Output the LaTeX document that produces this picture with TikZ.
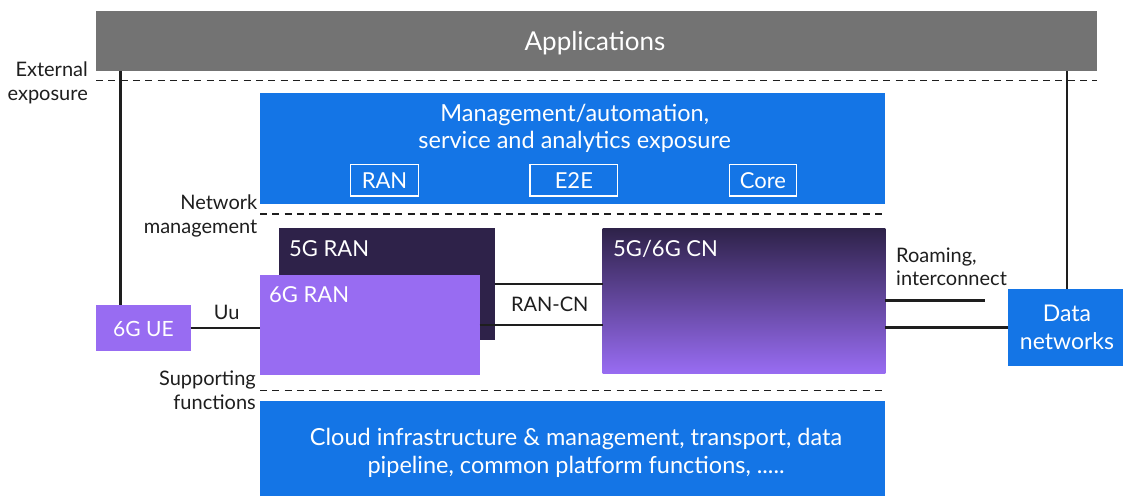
\documentclass[tikz,border=0pt]{standalone}
\usepackage{fontspec}
\setmainfont{Lato}
\usetikzlibrary{calc}

\definecolor{appgray}{HTML}{737373}
\definecolor{ebblue}{HTML}{1475E6}
\definecolor{ranDark}{HTML}{2E2249}
\definecolor{ranPurple}{HTML}{986CF2}
\definecolor{inktext}{HTML}{1E1E1E}

\tikzset{
  blk/.style={rectangle, draw=none, inner sep=0pt, outer sep=0pt},
  bluebox/.style={blk, fill=ebblue},
  tag/.style={rectangle, draw=white, line width=1.5pt, inner sep=0pt, minimum height=31.7pt},
  wtext/.style={inner sep=0pt, text=white},
  side/.style={inner sep=0pt, text=inktext, font=\fontsize{20}{23.6}\selectfont},
  link/.style={draw=inktext, line width=2.5pt},
  sep/.style={draw=inktext, line width=1.4pt, dash pattern=on 7pt off 5.3pt},
}

\begin{document}
\begin{tikzpicture}[x=1pt, y=-1pt]
\useasboundingbox (0,0) rectangle (1123,495);

% layer boxes
\node[blk, fill=appgray, minimum width=1001pt, minimum height=60pt] (apps) at (596.5,41) {};
\node[bluebox, minimum width=625pt, minimum height=111.3pt] (mgmt) at (572.5,148.35) {};
\node[bluebox, minimum width=625pt, minimum height=97.3pt] (cloud) at (572.5,449.35) {};

% management sub-domains
\node[tag, minimum width=67.6pt] (tagran) at (384.5,180.15) {};
\node[tag, minimum width=87.7pt] (tage2e) at (573.85,180.15) {};
\node[tag, minimum width=67.4pt] (tagcore) at (763,180.15) {};

% network functions
\node[blk, fill=ranDark, minimum width=216pt, minimum height=112pt] (ran5) at (387,284) {};
\node[blk, fill=ranPurple, minimum width=219.5pt, minimum height=99.7pt] (ran6) at (369.75,325.15) {};
\node[blk, fill=ranPurple, minimum width=94.7pt, minimum height=45.7pt] (ue) at (143.35,327.85) {};
\node[blk, top color=ranDark, bottom color=ranPurple, minimum width=282.6pt, minimum height=145.3pt] (cn) at (744,300.65) {};
\node[bluebox, minimum width=118pt, minimum height=76.7pt] (dn) at (1067,327.35) {};

% separators
\draw[sep] (96,80.7) -- (1097,80.7);
\draw[sep] (260,214) -- (887,214);
\draw[sep] (260,390.7) -- (887,390.7);

% connectors
\coordinate (uetap) at (120.7,0);
\coordinate (roamend) at (985,300.65);
\draw[link] (apps.south -| uetap) -- (ue.north -| uetap);
\draw[link] (apps.south -| dn.north) -- (dn.north);
\draw[link] (ue.east) -- (ue.east -| ran6.west);
\draw[link] (ran5.east) -- (ran5.east -| cn.west);
\draw[link] (ran6.east) -- (ran6.east -| cn.west);
\draw[link] (cn.east) -- (roamend);
\draw[link] (cn.east |- dn.west) -- (dn.west);

% texts in boxes (multi-line nodes sit on the baseline of their last line)
\node[wtext, anchor=base, font=\fontsize{26}{30}\selectfont] (appstxt) at (595,50.7) {Applications};
\node[wtext, anchor=base, align=center, font=\fontsize{23.5}{26.6}\selectfont] (mgmttxt) at (574.7,148.3)
  {Management/automation,\\service and analytics exposure};
\node[wtext, anchor=base, font=\fontsize{22}{25}\selectfont] at (tagran |- 0,188.3) {RAN};
\node[wtext, anchor=base, font=\fontsize{22}{25}\selectfont] at (tage2e |- 0,188.3) {E2E};
\node[wtext, anchor=base, font=\fontsize{22}{25}\selectfont] at (tagcore |- 0,188.3) {Core};
\node[wtext, anchor=base west, font=\fontsize{22}{25}\selectfont] (ran5txt) at (289,256) {5G RAN};
\node[wtext, anchor=base west, font=\fontsize{22}{25}\selectfont] (ran6txt) at (269,302) {6G RAN};
\node[wtext, anchor=base, font=\fontsize{21}{25}\selectfont] (uetxt) at (143.4,336.7) {6G UE};
\node[wtext, anchor=base west, font=\fontsize{22}{25}\selectfont] (cntxt) at (613,256) {5G/6G CN};
\node[wtext, anchor=base, align=center, font=\fontsize{23}{27.6}\selectfont] (dntxt) at (1067,349.3) {Data\\networks};
\node[wtext, anchor=base, align=center, font=\fontsize{23.5}{28}\selectfont] (cloudtxt) at (576,473)
  {Cloud infrastructure \& management, transport, data\\pipeline, common platform functions, .....};

% side labels
\node[side, anchor=base east, align=right] (extlbl) at (88,100.3) {External\\exposure};
\node[side, anchor=base east, align=right] (nmlbl) at (257.5,233) {Network\\management};
\node[side, anchor=base east, align=right] (suplbl) at (256,409) {Supporting\\functions};
\node[side, anchor=base] (uulbl) at (226.7,319) {Uu};
\node[side, anchor=base] (rancnlbl) at (549.7,311.7) {RAN-CN};
\node[side, anchor=base west, align=left] (roamlbl) at (896,285.7) {Roaming,\\interconnect};
\end{tikzpicture}
\end{document}
